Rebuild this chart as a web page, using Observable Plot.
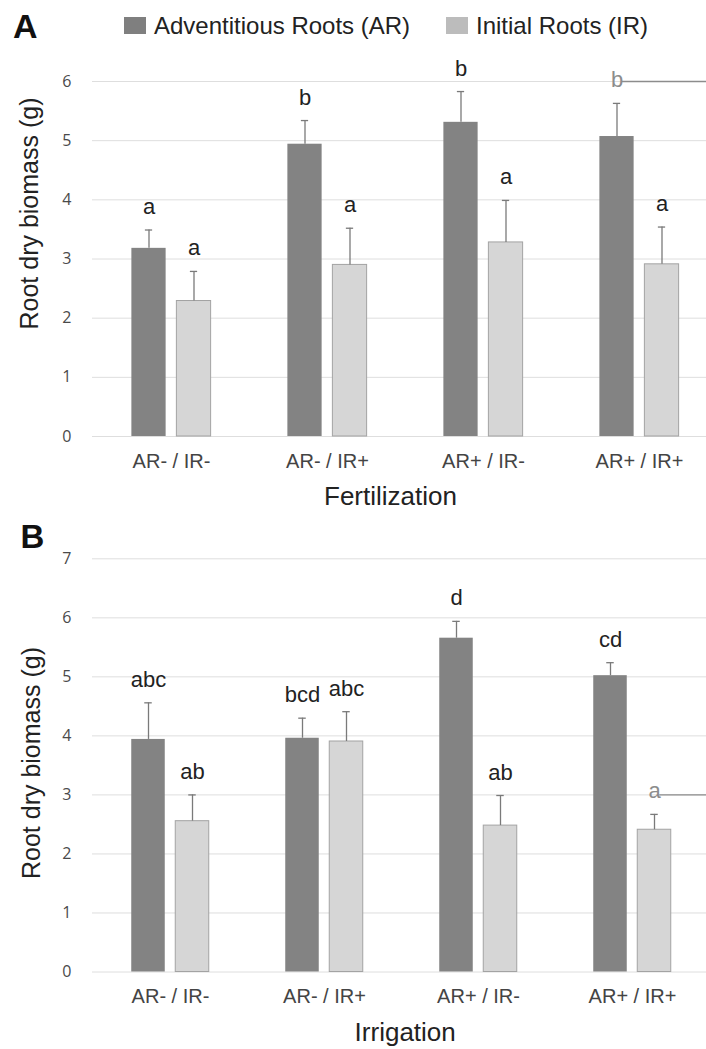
<!DOCTYPE html>
<html><head><meta charset="utf-8">
<script src="https://cdn.jsdelivr.net/npm/d3@7"></script>
<script src="https://cdn.jsdelivr.net/npm/@observablehq/plot@0.6"></script>
<style>
body{margin:0;background:#fff;}
#page{width:706px;height:1049px;overflow:hidden;font-family:"Liberation Sans",Arial,sans-serif;}
#page svg{display:block;}
</style></head><body><div id="page"><div id="legend"></div><div id="panelA"></div><div id="panelB"></div></div>
<script>
// ---- data ----
const groups = ["AR- / IR-", "AR- / IR+", "AR+ / IR-", "AR+ / IR+"];
const seriesKeys = ["AR", "IR"];
const seriesNames = ["Adventitious Roots (AR)", "Initial Roots (IR)"];

// Panel A — Fertilization
const fertAR = [3.18, 4.94, 5.31, 5.07];
const fertARerr = [0.31, 0.40, 0.52, 0.56];
const fertARletters = ["a", "b", "b", "b"];
const fertIR = [2.29, 2.90, 3.28, 2.91];
const fertIRerr = [0.50, 0.62, 0.71, 0.63];
const fertIRletters = ["a", "a", "a", "a"];

// Panel B — Irrigation
const irrAR = [3.94, 3.96, 5.655, 5.02];
const irrARerr = [0.62, 0.34, 0.285, 0.22];
const irrARletters = ["abc", "bcd", "d", "cd"];
const irrIR = [2.555, 3.905, 2.48, 2.41];
const irrIRerr = [0.445, 0.505, 0.51, 0.26];
const irrIRletters = ["ab", "abc", "ab", "a"];

const yTicksA = [0, 1, 2, 3, 4, 5, 6];
const yTicksB = [0, 1, 2, 3, 4, 5, 6, 7];

// faded (greyed) letters in the source figure, with a stray line at a gridline
const fadedA = {group: "AR+ / IR+", series: "AR", line: 6};
const fadedB = {group: "AR+ / IR+", series: "IR", line: 3};

const colAR = "#838383", colIR = "#d6d6d6", colIRstroke = "#a3a3a3";

function rows(ar, arErr, arL, ir, irErr, irL) {
  const out = [];
  groups.forEach((g, i) => {
    out.push({group: g, series: "AR", value: ar[i], err: arErr[i], letter: arL[i]});
    out.push({group: g, series: "IR", value: ir[i], err: irErr[i], letter: irL[i]});
  });
  return out;
}

// ---- legend ----
(function legend() {
  const svg = d3.select("#legend").append("svg").attr("width", 706).attr("height", 50);
  svg.append("text").attr("x", 13).attr("y", 38).attr("font-size", 34).attr("font-weight", "bold")
    .attr("font-family", "Liberation Sans, Arial, sans-serif").attr("fill", "#111").text("A");
  const xs = [124, 446];
  const cols = ["#7f7f7f", "#bcbcbc"];
  seriesNames.forEach((s, i) => {
    svg.append("rect").attr("x", xs[i]).attr("y", 17).attr("width", 22).attr("height", 17).attr("fill", cols[i]);
    svg.append("text").attr("x", xs[i] + 30).attr("y", 34).attr("font-size", 24)
      .attr("font-family", "Liberation Sans, Arial, sans-serif").attr("fill", "#222").text(s);
  });
})();

function panel({data, yTicks, height, marginTop, marginBottom, xRange, barW, offset, xTitle, titleDx, titleDy, yTitleDx, yTitleDy, faded, letter}) {
  const step = (xRange[1] - xRange[0]) / groups.length;
  const half = step / 2;
  const off = {AR: -offset, IR: offset};
  const ins = s => ({insetLeft: half + off[s] - barW / 2, insetRight: half - off[s] - barW / 2});
  const capIns = s => ({insetLeft: half + off[s] - 4, insetRight: half - off[s] - 4});
  const isFaded = d => d.group === faded.group && d.series === faded.series;
  const marks = [
    Plot.ruleY(yTicks, {stroke: "#dedede", strokeWidth: 1}),
    Plot.axisY({ticks: yTicks, tickFormat: d3.format("d"), tickSize: 0, tickPadding: 21, fontSize: 16, fontFamily: "Open Sans", color: "#4a4a4a", label: null}),
    Plot.axisX({tickSize: 0, tickPadding: 17, fontSize: 20, fontFamily: "Liberation Sans", color: "#444", label: null}),
  ];
  for (const s of seriesKeys) {
    const d = data.filter(r => r.series === s);
    marks.push(Plot.barY(d, {x: "group", y: "value", fill: s === "AR" ? colAR : colIR,
      stroke: s === "AR" ? null : colIRstroke, strokeWidth: 1, ...ins(s)}));
    marks.push(Plot.ruleX(d, {x: "group", y1: "value", y2: r => r.value + r.err, dx: off[s], stroke: "#7a7a7a", strokeWidth: 1.3}));
    marks.push(Plot.tickY(d, {x: "group", y: r => r.value + r.err, stroke: "#7a7a7a", strokeWidth: 1.3, ...capIns(s)}));
    marks.push(Plot.text(d.filter(r => !isFaded(r)), {x: "group", y: r => r.value + r.err, text: "letter", dx: off[s], dy: -16,
      lineAnchor: "bottom", fontSize: 22, fontFamily: "Liberation Sans", fill: "#222"}));
    marks.push(Plot.text(d.filter(isFaded), {x: "group", y: r => r.value + r.err, text: "letter", dx: off[s], dy: -16,
      lineAnchor: "bottom", fontSize: 22, fontFamily: "Liberation Sans", fill: "#8c8c8c"}));
  }
  const fd = data.filter(isFaded);
  marks.push(Plot.ruleY(fd, {x1: "group", x2: "group", y: () => faded.line, stroke: "#8c8c8c", strokeWidth: 1.3,
    insetLeft: half + off[faded.series] + 5}));
  marks.push(Plot.text([xTitle], {frameAnchor: "bottom", dx: titleDx, dy: titleDy, textAnchor: "middle", lineAnchor: "middle", fontSize: 26, fontFamily: "Liberation Sans", fill: "#222"}));
  marks.push(Plot.text(["Root dry biomass (g)"], {frameAnchor: "left", dx: yTitleDx, dy: yTitleDy, rotate: -90, textAnchor: "middle", lineAnchor: "middle", fontSize: 25, fontFamily: "Liberation Sans", fill: "#222"}));
  if (letter) marks.push(Plot.text([letter], {frameAnchor: "top-left", dx: -72, dy: -21.8, textAnchor: "start", lineAnchor: "middle", fontSize: 33, fontWeight: "bold", fontFamily: "Liberation Sans", fill: "#111"}));
  return Plot.plot({
    width: 706, height, marginLeft: 92, marginRight: 0, marginTop, marginBottom,
    style: {background: "transparent", overflow: "visible"},
    x: {domain: groups, range: xRange, padding: 0},
    y: {domain: [0, yTicks[yTicks.length - 1]]},
    marks
  });
}

document.getElementById("panelA").append(panel({
  data: rows(fertAR, fertARerr, fertARletters, fertIR, fertIRerr, fertIRletters),
  yTicks: yTicksA, height: 470, marginTop: 31, marginBottom: 84, xRange: [91, 718],
  barW: 35, offset: 22.5, xTitle: "Fertilization", titleDx: -9, titleDy: 60,
  yTitleDx: -63, yTitleDy: -45.5, faded: fadedA
}));
document.getElementById("panelB").append(panel({
  data: rows(irrAR, irrARerr, irrARletters, irrIR, irrIRerr, irrIRletters),
  yTicks: yTicksB, height: 529, marginTop: 38.3, marginBottom: 77.5, xRange: [92, 710],
  barW: 34, offset: 22, xTitle: "Irrigation", titleDx: 5.7, titleDy: 61,
  yTitleDx: -61, yTitleDy: -2.4, faded: fadedB, letter: "B"
}));
</script></body></html>
